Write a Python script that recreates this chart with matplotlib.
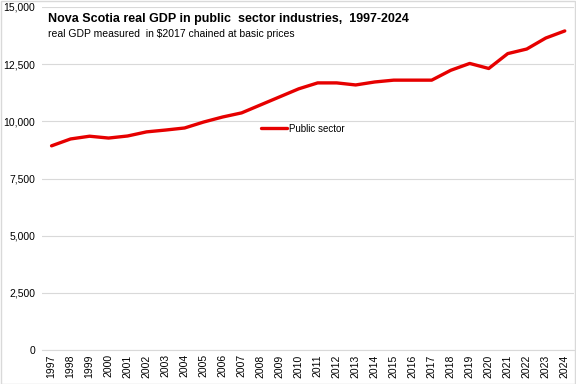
import matplotlib.pyplot as plt
import matplotlib.ticker as mticker
from matplotlib.patches import Rectangle

# data: Nova Scotia real GDP, public sector industries ($2017 chained, millions)
years = [str(y) for y in range(1997, 2025)]
gdp = [8930, 9230, 9350, 9270, 9360, 9540, 9620, 9710, 9970, 10190,
       10370, 10720, 11070, 11420, 11680, 11680, 11590, 11720, 11800, 11800,
       11800, 12230, 12530, 12310, 12960, 13160, 13640, 13950]

plt.rcParams['font.family'] = ['Liberation Sans', 'DejaVu Sans']

fig = plt.figure(figsize=(5.76, 3.84), dpi=100)
ax = fig.add_axes([0.073, 0.088, 0.924, 0.894])

x = range(len(years))
ax.plot(x, gdp, color='#e60000', lw=2.4, solid_capstyle='round', label='Public sector')

ax.set_xlim(-0.5, len(years) - 0.5)
ax.set_ylim(0, 15000)
ax.set_yticks(range(0, 15001, 2500))
ax.yaxis.set_major_formatter(mticker.StrMethodFormatter('{x:,.0f}'))
ax.set_xticks(list(x))
ax.set_xticklabels(years, rotation=90, fontsize=7.5)
ax.tick_params(axis='y', labelsize=7.5, length=0, pad=5)
ax.tick_params(axis='x', length=0, pad=3)
ax.grid(axis='y', color='#d9d9d9', lw=0.8)
ax.set_axisbelow(True)
for s in ['top', 'right', 'left']:
    ax.spines[s].set_visible(False)
ax.spines['bottom'].set_color('#d9d9d9')

ax.text(0.012, 0.982, 'Nova Scotia real GDP in public  sector industries,  1997-2024',
        transform=ax.transAxes, fontsize=9, fontweight='bold', va='top')
ax.text(0.012, 0.935, 'real GDP measured  in $2017 chained at basic prices',
        transform=ax.transAxes, fontsize=7.5, va='top')

ax.legend(loc='center', bbox_to_anchor=(0.49, 0.645), frameon=False, fontsize=7,
          handlelength=2.6, handletextpad=0.2)

fig.patches.append(Rectangle((0.001, 0.001), 0.997, 0.997, transform=fig.transFigure,
                             fill=False, edgecolor='#d9d9d9', lw=1))

fig.savefig('out.png', dpi=100)
